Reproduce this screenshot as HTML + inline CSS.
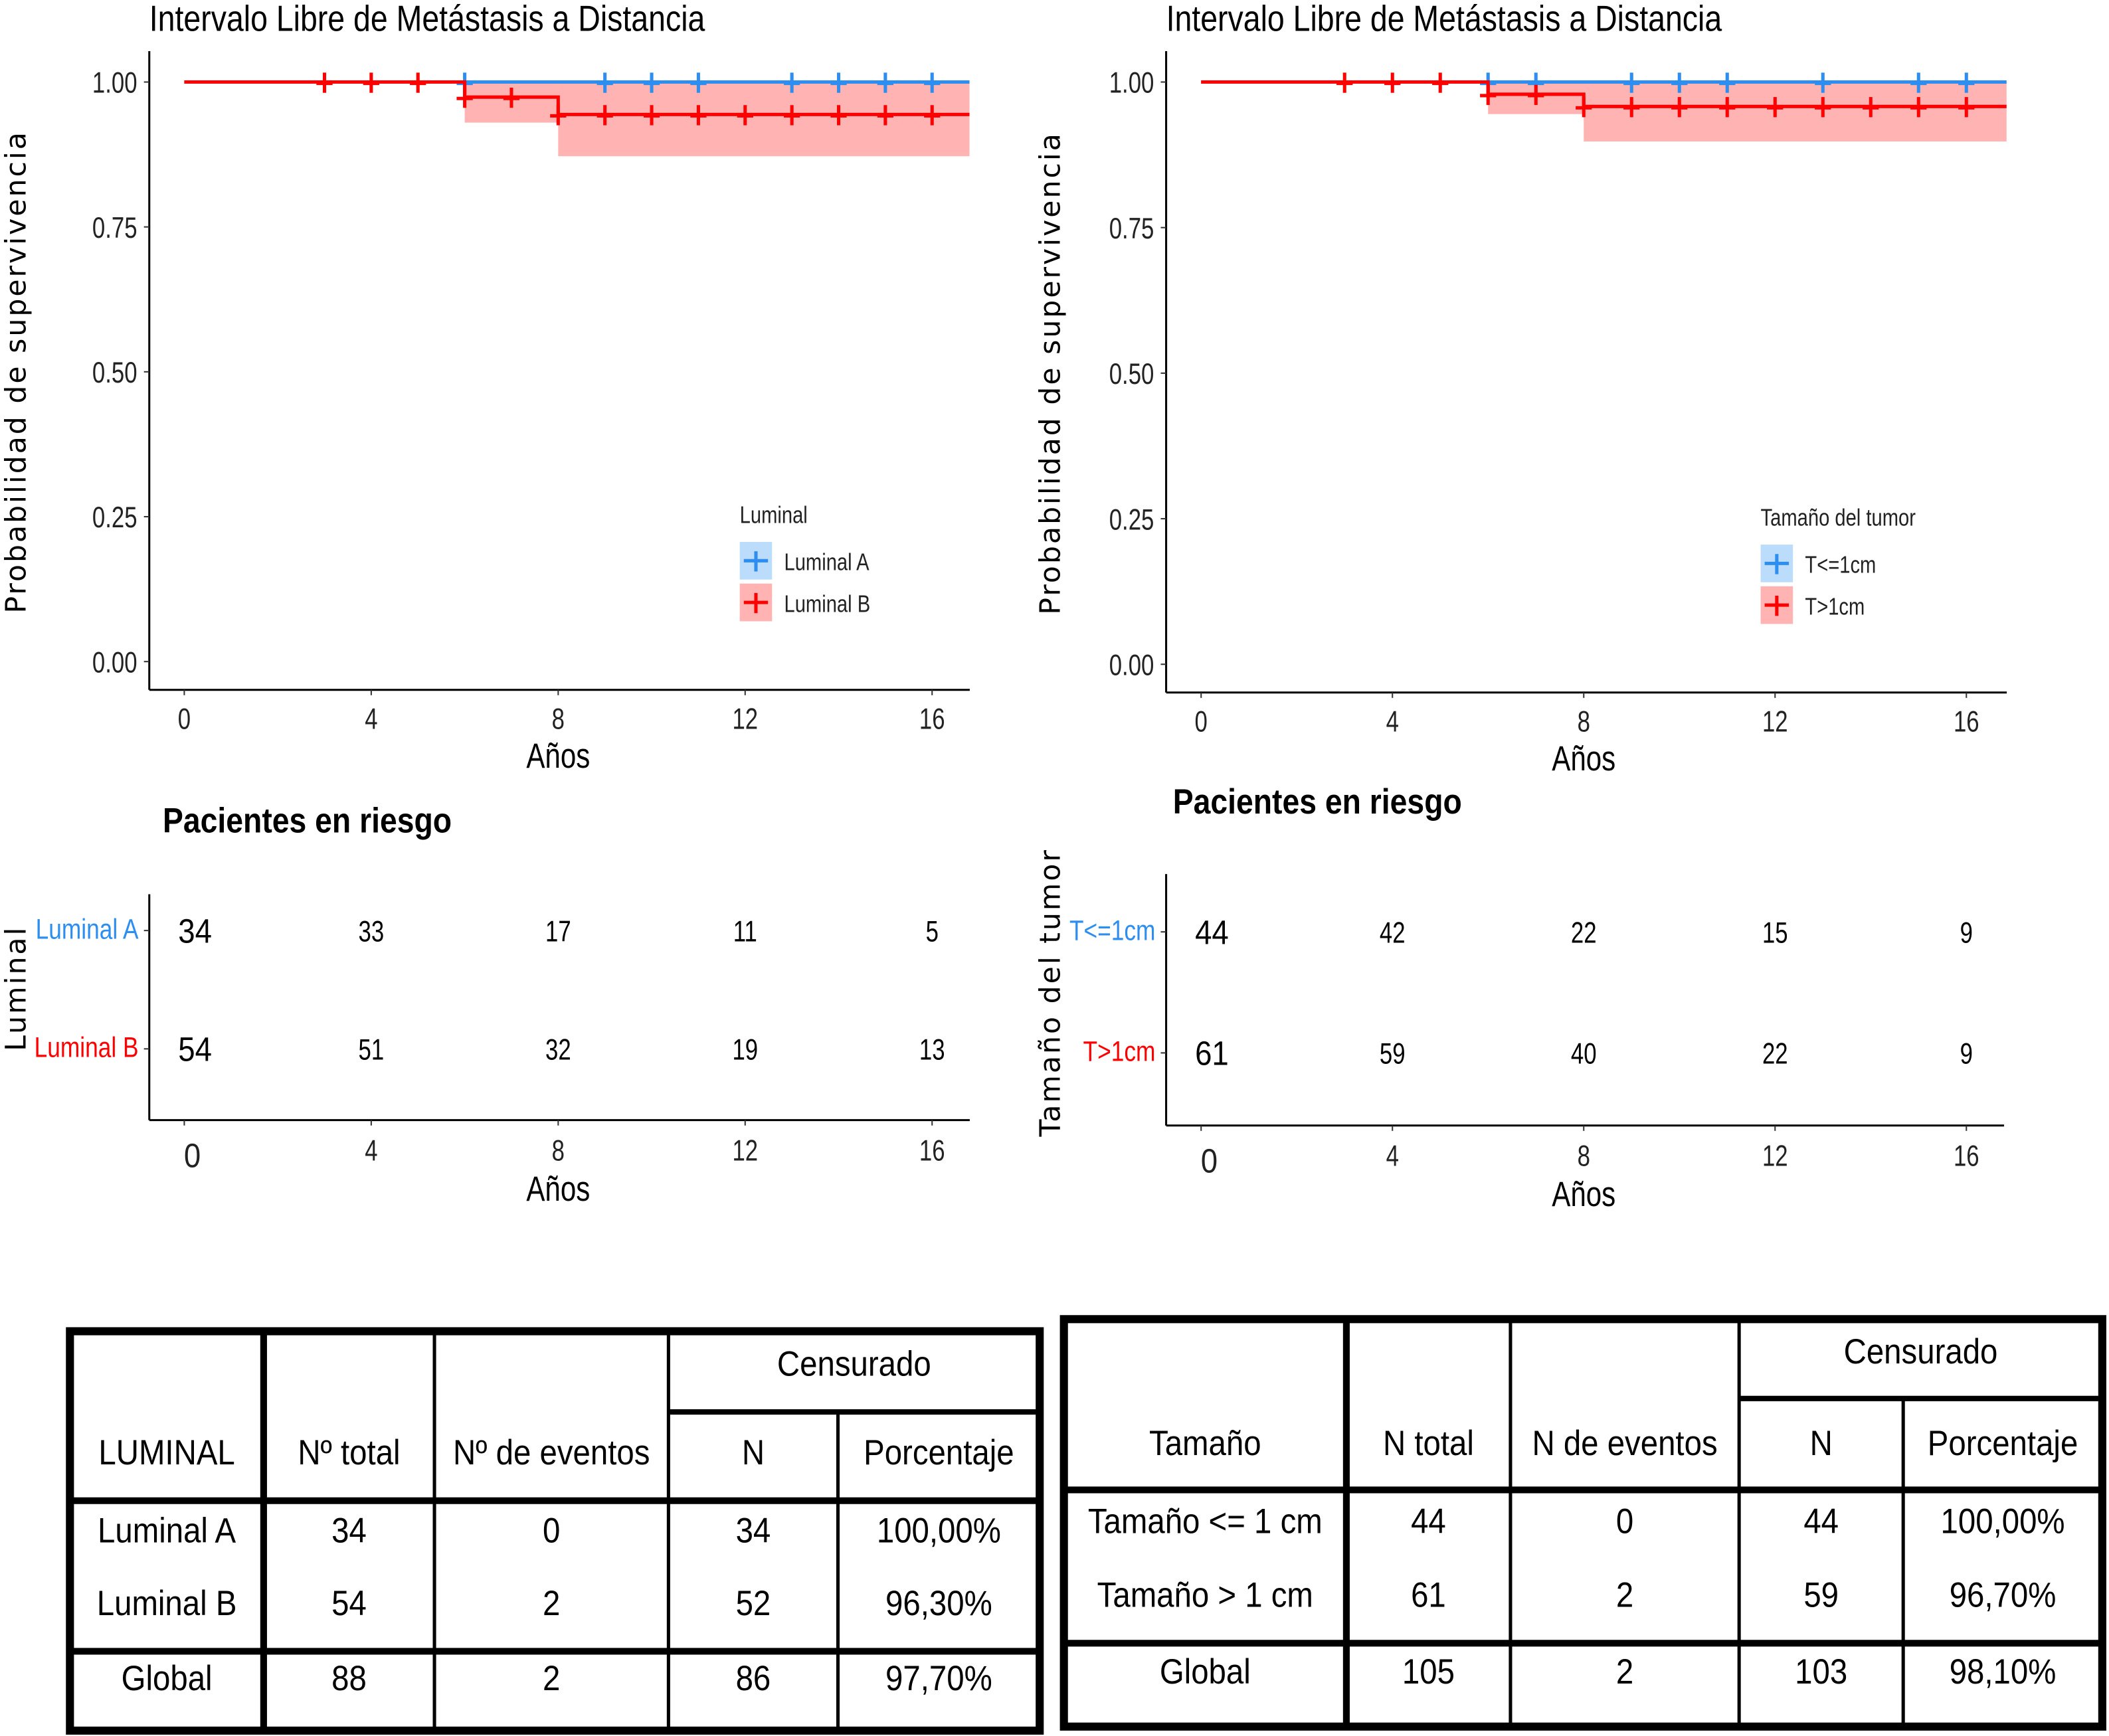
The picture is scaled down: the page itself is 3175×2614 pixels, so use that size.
<!DOCTYPE html>
<html><head><meta charset="utf-8"><style>
html,body{margin:0;padding:0;background:#fff;}
svg{display:block;}
text{font-family:"Liberation Sans",sans-serif;}
.tb{font-family:"DejaVu Sans","Liberation Sans",sans-serif;}
</style></head><body>
<svg id="root" xmlns="http://www.w3.org/2000/svg" width="3175" height="2614" viewBox="0 0 1568 1291" preserveAspectRatio="none"></svg>
<script>
// ---- data ----
const timeTicks = [0, 4, 8, 12, 16];
const probTicks = [0, 0.25, 0.5, 0.75, 1.0];
const probTickLabels = ["0.00", "0.25", "0.50", "0.75", "1.00"];
// Left chart: Luminal
const lumA_stepTimes = [0, 16.8];
const lumA_stepValues = [1.0, 1.0];
const lumA_censor = [6, 9, 10, 11, 13, 14, 15, 16];
const lumB_stepTimes = [0, 6, 8, 16.8];
const lumB_stepValues = [1.0, 0.974, 0.944, 0.944];
const lumB_ciLower = [1.0, 0.930, 0.872, 0.872];
const lumB_censorTimes = [3, 4, 5, 6, 7, 8, 9, 10, 11, 12, 13, 14, 15, 16];
const lumA_risk = [34, 33, 17, 11, 5];
const lumB_risk = [54, 51, 32, 19, 13];
// Right chart: tumour size
const tSmall_stepTimes = [0, 16.84];
const tSmall_stepValues = [1.0, 1.0];
const tSmall_censor = [6, 7, 9, 10, 11, 13, 15, 16];
const tBig_stepTimes = [0, 6, 8, 16.84];
const tBig_stepValues = [1.0, 0.979, 0.958, 0.958];
const tBig_ciLower = [1.0, 0.945, 0.898, 0.898];
const tBig_censorTimes = [3, 4, 5, 6, 7, 8, 9, 10, 11, 12, 13, 14, 15, 16];
const tSmall_risk = [44, 42, 22, 15, 9];
const tBig_risk = [61, 59, 40, 22, 9];

const NS = "http://www.w3.org/2000/svg";
const root = document.getElementById('root');
function mk(tag, attrs, parent, txt){
  const e = document.createElementNS(NS, tag);
  for (const k in attrs) e.setAttribute(k, attrs[k]);
  if (txt !== undefined) e.textContent = txt;
  (parent || root).appendChild(e);
  return e;
}
function nt(x, y, attrs, parent, txt, sx){
  attrs.x = 0; attrs.y = 0;
  attrs.transform = `translate(${x},${y}) scale(${sx},1)`;
  return mk('text', attrs, parent, txt);
}
function valAt(times, vals, t){ let v = vals[0]; for (let i=0;i<times.length;i++){ if (t >= times[i]) v = vals[i]; } return v; }

function drawKM(cfg){
  const g = mk('g', {});
  
  
  const X = t => cfg.x0 + t * cfg.xs;
  const Y = p => cfg.y0 - p * cfg.ys;
  const ti = nt(cfg.ax, 23, {'font-size': 27, fill: '#000'}, g, 'Intervalo Libre de Metástasis a Distancia', 0.85);
   
  let d = '';
  for (let i=0;i<cfg.bT.length-1;i++){
    const x1 = X(cfg.bT[i]), x2 = X(cfg.bT[i+1]);
    if (cfg.bL[i] < 1) d += `M${x1},${Y(1)}H${x2}V${Y(cfg.bL[i])}H${x1}Z`;
  }
  const rib = mk('path', {d, fill: '#ffb3b3'}, g);
   
  mk('line', {x1: cfg.ax, y1: 38, x2: cfg.ax, y2: cfg.ay, stroke: '#000', 'stroke-width': 1.5}, g);
  mk('line', {x1: cfg.ax, y1: cfg.ay, x2: cfg.axEnd, y2: cfg.ay, stroke: '#000', 'stroke-width': 1.5}, g);
  probTicks.forEach((p, i) => {
    mk('line', {x1: cfg.ax-4, x2: cfg.ax, y1: Y(p), y2: Y(p), stroke: '#333'}, g);
    const t = nt(cfg.ax-9, Y(p)+8, {'font-size': 22, fill: '#222', 'text-anchor': 'end'}, g, probTickLabels[i], 0.78);
     
  });
  timeTicks.forEach(tk => {
    mk('line', {x1: X(tk), x2: X(tk), y1: cfg.ay, y2: cfg.ay+4, stroke: '#333'}, g);
    const t = nt(X(tk), cfg.ay+29, {'font-size': 22, fill: '#222', 'text-anchor': 'middle'}, g, tk, 0.78);
     
  });
  const xt = nt(X(8), cfg.ay+58, {'font-size': 26, fill: '#000', 'text-anchor': 'middle'}, g, 'Años', 0.8);
   
  const yt = mk('text', {x: 0, y: 0, 'font-size': 21, fill: '#000', 'text-anchor': 'middle', class: 'tb', 'letter-spacing': '1.5', transform: `translate(${cfg.ytx},${Y(0.5)}) rotate(-90)`}, g, 'Probabilidad de supervivencia');
   
  function step(times, vals, color, name){
    let p = `M${X(times[0])},${Y(vals[0])}`;
    for (let i=1;i<times.length;i++){ p += `H${X(times[i])}V${Y(vals[i])}`; }
    const e = mk('path', {d: p, fill: 'none', stroke: color, 'stroke-width': 2.5}, g);
     
  }
  function marks(ts, times, vals, color, name){
    ts.forEach(t => {
      const x = X(t), y = Y(valAt(times, vals, t));
      const e = mk('path', {d: `M${x-6},${y+1}H${x+6}M${x},${y-7}V${y+8}`, stroke: color, 'stroke-width': 2.5}, g);
       
    });
  }
  step(cfg.aT, cfg.aV, '#2d8ef0', 'curve-a');
  marks(cfg.aC, cfg.aT, cfg.aV, '#2d8ef0', 'censor-mark-a');
  step(cfg.bT, cfg.bV, '#ff0000', 'curve-b');
  marks(cfg.bC, cfg.bT, cfg.bV, '#ff0000', 'censor-mark-b');
  const lg = mk('g', {}, g);
   
  nt(cfg.lx, cfg.ly, {'font-size': 18, fill: '#222'}, lg, cfg.legTitle, 0.8);
  [[cfg.legA, '#bcdcfb', '#2d8ef0'], [cfg.legB, '#ffb3b3', '#ff0000']].forEach((it, i) => {
    const yy = cfg.ly + 14 + i*31;
    mk('rect', {x: cfg.lx, y: yy, width: 24, height: 28, fill: it[1]}, lg);
    mk('path', {d: `M${cfg.lx+3},${yy+14}H${cfg.lx+21}M${cfg.lx+12},${yy+7}V${yy+22}`, stroke: it[2], 'stroke-width': 2.5}, lg);
    const le = nt(cfg.lx+33, yy+21, {'font-size': 18, fill: '#222'}, lg, it[0], 0.8);
     
  });
}

function drawRisk(cfg){
  const g = mk('g', {});
  
  
  const X = t => cfg.x0 + t * cfg.xs;
  const h = nt(cfg.hx, cfg.hy, {'font-size': 26, 'font-weight': 'bold', fill: '#000'}, g, 'Pacientes en riesgo', 0.88);
   
  mk('line', {x1: cfg.ax, y1: cfg.top, x2: cfg.ax, y2: cfg.ay, stroke: '#000', 'stroke-width': 1.5}, g);
  mk('line', {x1: cfg.ax, y1: cfg.ay, x2: cfg.axEnd, y2: cfg.ay, stroke: '#000', 'stroke-width': 1.5}, g);
  [[cfg.rA, cfg.yA, cfg.labA, '#2d8ef0'], [cfg.rB, cfg.yB, cfg.labB, '#ff0000']].forEach(r => {
    mk('line', {x1: cfg.ax-4, x2: cfg.ax, y1: r[1], y2: r[1], stroke: '#333'}, g);
    const l = nt(cfg.ax-8, r[1]+6, {'font-size': 21, fill: r[3], 'text-anchor': 'end'}, g, r[2], 0.83);
     
    timeTicks.forEach((tk, i) => {
      const big = i === 0;
      const t = nt(X(tk) + (big ? 8 : 0), r[1] + (big ? 9 : 8), {'font-size': big ? 25 : 22, fill: '#000', 'text-anchor': 'middle'}, g, r[0][i], big ? 0.9 : 0.78);
       
    });
  });
  timeTicks.forEach((tk, i) => {
    mk('line', {x1: X(tk), x2: X(tk), y1: cfg.ay, y2: cfg.ay+4, stroke: '#333'}, g);
    const big = i === 0;
    const t = nt(X(tk) + (big ? 6 : 0), cfg.ay + (big ? 35 : 30), {'font-size': big ? 25 : 22, fill: '#222', 'text-anchor': 'middle'}, g, tk, big ? 0.9 : 0.78);
     
  });
  const xt = nt(X(8), cfg.ay+60, {'font-size': 26, fill: '#000', 'text-anchor': 'middle'}, g, 'Años', 0.8);
   
  const yt = mk('text', {x: 0, y: 0, 'font-size': 21, fill: '#000', 'text-anchor': 'middle', class: 'tb', 'letter-spacing': '1.5', transform: `translate(${cfg.ytx},${cfg.yty}) rotate(-90)`}, g, cfg.ytitle);
   
}

drawKM({name: 'km-chart-luminal', x0: 137, xs: 34.75, y0: 492, ys: 431, ax: 111, ay: 513, axEnd: 721, ytx: 19,
  aT: lumA_stepTimes, aV: lumA_stepValues, aC: lumA_censor,
  bT: lumB_stepTimes, bV: lumB_stepValues, bL: lumB_ciLower, bC: lumB_censorTimes,
  lx: 550, ly: 389, legTitle: 'Luminal', legA: 'Luminal A', legB: 'Luminal B'});
drawKM({name: 'km-chart-tumor-size', x0: 893, xs: 35.56, y0: 494, ys: 433, ax: 867, ay: 515, axEnd: 1492, ytx: 788,
  aT: tSmall_stepTimes, aV: tSmall_stepValues, aC: tSmall_censor,
  bT: tBig_stepTimes, bV: tBig_stepValues, bL: tBig_ciLower, bC: tBig_censorTimes,
  lx: 1309, ly: 391, legTitle: 'Tamaño del tumor', legA: 'T<=1cm', legB: 'T>1cm'});
drawRisk({name: 'risk-table-luminal', x0: 137, xs: 34.75, ax: 111, ay: 833, top: 665, axEnd: 721,
  hx: 121, hy: 619, rA: lumA_risk, rB: lumB_risk, yA: 692, yB: 780, labA: 'Luminal A', labB: 'Luminal B',
  ytitle: 'Luminal', ytx: 19, yty: 735});
drawRisk({name: 'risk-table-tumor-size', x0: 893, xs: 35.56, ax: 867, ay: 837, top: 650, axEnd: 1490,
  hx: 872, hy: 605, rA: tSmall_risk, rB: tBig_risk, yA: 693, yB: 783, labA: 'T<=1cm', labB: 'T>1cm',
  ytitle: 'Tamaño del tumor', ytx: 788, yty: 738});

// ---- summary tables ----
function drawTable(t){
  const g = mk('g', {});
  
  
  const [L, T, R, B] = t.box;
  mk('rect', {x: L, y: T, width: R-L, height: B-T, fill: '#fff', stroke: '#000', 'stroke-width': 6}, g);
  t.cols.forEach((c, i) => mk('line', {x1: c, x2: c, y1: i === 3 ? t.hsplit : T, y2: B, stroke: '#000', 'stroke-width': i === 0 ? 5 : 2.5}, g));
  mk('line', {x1: t.cols[2], x2: R, y1: t.hsplit, y2: t.hsplit, stroke: '#000', 'stroke-width': 4}, g);
  t.rows.forEach(r => mk('line', {x1: L, x2: R, y1: r, y2: r, stroke: '#000', 'stroke-width': 5}, g));
  const edges = [L, ...t.cols, R];
  const cx = i => (edges[i] + edges[i+1]) / 2;
  const ct = nt((t.cols[2] + R)/2, t.censY, {'font-size': 26, 'text-anchor': 'middle', fill: '#000'}, g, 'Censurado', 0.9);
   
  t.header.forEach((h, i) => {
    const e = nt(cx(i), t.headY, {'font-size': 26, 'text-anchor': 'middle', fill: '#000'}, g, h, 0.9);
     
  });
  t.body.forEach((row, ri) => row.forEach((v, i) => {
    const e = nt(cx(i), t.bodyY[ri], {'font-size': 26, 'text-anchor': 'middle', fill: '#000'}, g, v, 0.9);
     
  }));
}
drawTable({name: 'summary-table-luminal', box: [52, 990, 773, 1287], cols: [196, 323, 497, 623], hsplit: 1050, rows: [1116, 1228],
  censY: 1023, headY: 1089, header: ['LUMINAL', 'Nº total', 'Nº de eventos', 'N', 'Porcentaje'],
  bodyY: [1147, 1201, 1257],
  body: [['Luminal A', '34', '0', '34', '100,00%'], ['Luminal B', '54', '2', '52', '96,30%'], ['Global', '88', '2', '86', '97,70%']]});
drawTable({name: 'summary-table-tumor-size', box: [791, 981, 1563, 1284], cols: [1001, 1123, 1293, 1415], hsplit: 1040, rows: [1108, 1222],
  censY: 1014, headY: 1082, header: ['Tamaño', 'N total', 'N de eventos', 'N', 'Porcentaje'],
  bodyY: [1140, 1195, 1252],
  body: [['Tamaño <= 1 cm', '44', '0', '44', '100,00%'], ['Tamaño > 1 cm', '61', '2', '59', '96,70%'], ['Global', '105', '2', '103', '98,10%']]});
</script>
</body></html>
